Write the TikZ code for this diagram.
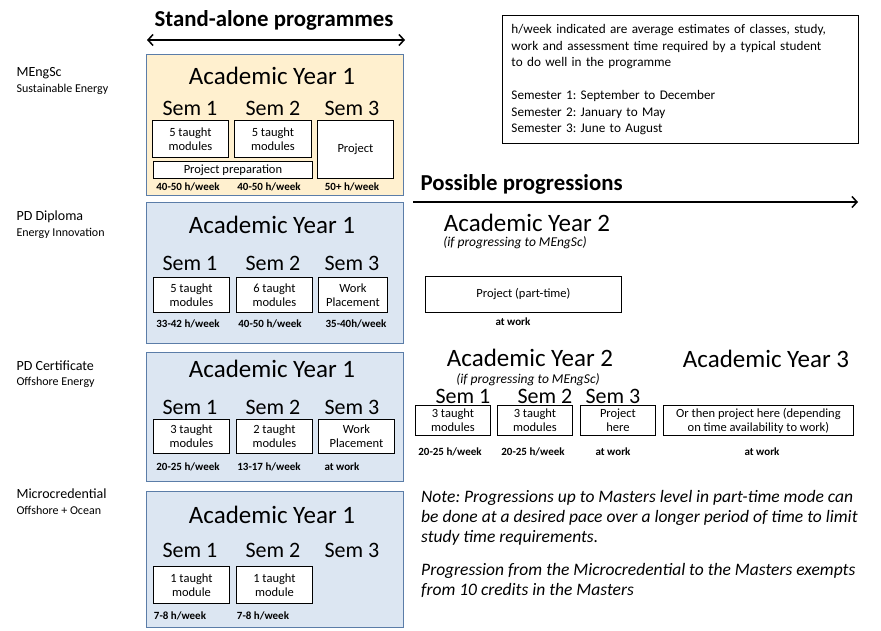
\documentclass[tikz,border=0pt]{standalone}
\usepackage{fontspec}
\setmainfont{Carlito}
\usetikzlibrary{arrows.meta,positioning}
\definecolor{yrorange}{RGB}{255,240,207}
\definecolor{yrblue}{RGB}{220,230,242}
\definecolor{yrline}{RGB}{91,125,168}
\frenchspacing

\begin{document}
\begin{tikzpicture}[x=1pt, y=-1pt, >={Straight Barb[length=5pt,width=11pt]},
  yearbox/.style={draw=yrline, line width=1.2pt, anchor=north west, minimum width=257pt, inner sep=0pt},
  modbox/.style={draw=black, fill=white, line width=0.9pt, anchor=north west, inner sep=0pt, align=center, font=\fontsize{12.5}{14}\selectfont},
  yeartitle/.style={inner sep=0pt, font=\fontsize{25}{28}\selectfont},
  semtitle/.style={font=\fontsize{22}{26}\selectfont},
  iftitle/.style={inner sep=0pt, font=\itshape\fontsize{13.5}{16}\selectfont},
  hours/.style={font=\bfseries\fontsize{11}{13}\selectfont},
  headline/.style={font=\bfseries\fontsize{22.8}{26}\selectfont},
  progname/.style={anchor=west, font=\fontsize{14}{16}\selectfont},
  progsub/.style={anchor=west, font=\fontsize{12}{14}\selectfont},
  barb/.style={line width=1.5pt}]
\useasboundingbox (0,0) rectangle (881,631);

% Headings and arrows
\node[headline] (standalone) at (274,20) {Stand-alone programmes};
\coordinate (sa-left) at (147,40);
\coordinate (sa-right) at (405,40);
\draw[barb, <->] (sa-left) -- (sa-right);
\node[headline, anchor=west] (progressions) at (417,184) {Possible progressions};
\coordinate (pp-start) at (413,202);
\coordinate (pp-end) at (858,202);
\draw[barb, ->] (pp-start) -- (pp-end);

% Hint box
\node[draw=black, line width=0.9pt, anchor=north west, inner sep=9pt, text width=338pt,
      minimum height=127pt, align=left, font=\fontsize{13.2}{16.5}\selectfont] (hint) at (502,15)
      {h/week indicated are average estimates of classes, study,\\
       work and assessment time required by a typical student\\
       to do well in the programme\\[16.5pt]
       Semester 1: September to December\\
       Semester 2: January to May\\
       Semester 3: June to August};

% Programme names
\foreach \n/\t/\s/\y in {meng/MEngSc/Sustainable Energy/73, dip/PD Diploma/Energy Innovation/217,
                         cert/PD Certificate/Offshore Energy/366, micro/Microcredential/Offshore + Ocean/494} {
  \node[progname] (name-\n) at (13,\y) {\t};
  \node[progsub] (sub-\n) at (13,\y+16) {\s};
}

% Year 1 boxes
\node[yearbox, fill=yrorange, minimum height=141pt] (year-meng) at (146,54) {};
\node[yearbox, fill=yrblue, minimum height=141pt] (year-dip) at (146,202) {};
\node[yearbox, fill=yrblue, minimum height=129pt] (year-cert) at (146,352) {};
\node[yearbox, fill=yrblue, minimum height=136pt] (year-micro) at (146,491) {};

% Year and semester titles
\foreach \n/\ya/\ys in {meng/76/108, dip/225/263, cert/369/407, micro/515/550} {
  \node[yeartitle] (ay-\n) at (272,\ya) {Academic Year 1};
  \foreach \x [count=\i] in {190,273,352} {
    \node[semtitle] (sem-\n-\i) at (\x,\ys) {Sem \i};
  }
}
\node[yeartitle] (ay2-dip) at (527,223) {Academic Year 2};
\node[iftitle] (if-dip) at (515,243) {(if progressing to MEngSc)};
\node[yeartitle] (ay2-cert) at (530,358) {Academic Year 2};
\node[iftitle] (if-cert) at (528,380) {(if progressing to MEngSc)};
\node[yeartitle] (ay3-cert) at (766,359) {Academic Year 3};
\foreach \x [count=\i] in {463,545,613} {
  \node[semtitle] (sem-prog-\i) at (\x,396) {Sem \i};
}

% Module boxes
\foreach \n/\x/\y/\w/\h/\t in {
    meng-1/152/120/76/37/{5 taught\\modules}, meng-2/234/120/77/37/{5 taught\\modules},
    meng-3/317/120/76/58/{Project}, meng-prep/153/161/159/17/{Project preparation},
    dip-1/153/277/76/35/{5 taught\\modules}, dip-2/236/277/76/35/{6 taught\\modules},
    dip-3/318/277/69/35/{Work\\Placement},
    cert-1/153/419/76/34/{3 taught\\modules}, cert-2/236/419/76/34/{2 taught\\modules},
    cert-3/318/419/76/34/{Work\\Placement},
    micro-1/153/566/76/37/{1 taught\\module}, micro-2/236/566/76/37/{1 taught\\module},
    dip-y2/425/276/196/36/{Project (part-time)},
    cert-y2a/415/405/75/30/{3 taught\\modules}, cert-y2b/497/405/75/30/{3 taught\\modules},
    cert-y2c/580/405/75/30/{Project\\here},
    cert-y3/663/405/190/30/{Or then project here (depending\\on time availability to work)}} {
  \node[modbox, minimum width=\w pt, minimum height=\h pt] (mod-\n) at (\x,\y) {\t};
}

% Study hours
\foreach \n/\x/\y/\t in {
    meng-1/188/187/{40-50 h/week}, meng-2/269/187/{40-50 h/week}, meng-3/352/187/{50+ h/week},
    dip-1/188/324/{33-42 h/week}, dip-2/270/324/{40-50 h/week}, dip-3/356/324/{35-40h/week},
    cert-1/188/467/{20-25 h/week}, cert-2/269/467/{13-17 h/week}, cert-3/342/467/{at work},
    micro-1/180/616/{7-8 h/week}, micro-2/263/616/{7-8 h/week},
    dip-y2/513/322/{at work},
    cert-y2a/450/452/{20-25 h/week}, cert-y2b/533/452/{20-25 h/week},
    cert-y2c/613/452/{at work}, cert-y3/762/452/{at work}} {
  \node[hours] (hrs-\n) at (\x,\y) {\t};
}

% Note
\node[anchor=north west, inner sep=0pt, align=left, font=\itshape\fontsize{17.5}{20}\selectfont] (note) at (421,490)
  {Note: Progressions up to Masters level in part-time mode can\\
   be done at a desired pace over a longer period of time to limit\\
   study time requirements.\\[13pt]
   Progression from the Microcredential to the Masters exempts\\
   from 10 credits in the Masters};
\end{tikzpicture}
\end{document}
